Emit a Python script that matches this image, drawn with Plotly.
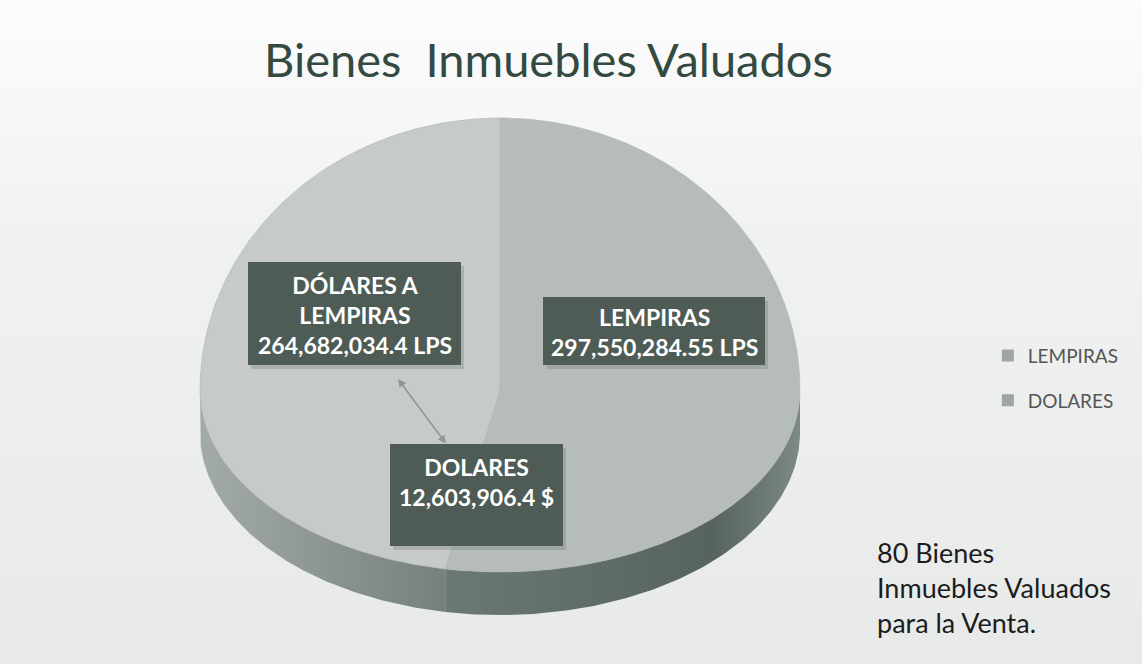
import numpy as np
import plotly.graph_objects as go

# ---------------- data ----------------
categories = ["LEMPIRAS", "DOLARES"]
values_lps = [297550284.55, 264682034.4]      # DOLARES already converted to lempiras
dolares_usd = 12603906.4
title_text = "Bienes  Inmuebles Valuados"
note_text = "80 Bienes<br>Inmuebles Valuados<br>para la Venta."

# ---------------- geometry / style ----------------
W, H = 1142, 664
CX, CY = 500, 390
RX, RY_TOP, RY_BOT = 300, 272, 182
DEPTH = 43
FONT = "Lato"

top_colors = ["#b6bcba", "#c6cbca"]
side_grad = [
    [[0, "#6c7973"], [0.75, "#56645d"], [1, "#7d8984"]],   # LEMPIRAS side (left->right)
    [[0, "#a3aba7"], [1, "#76817b"]],                     # DOLARES side (left->right)
]


def ell(theta_deg):
    t = np.radians(theta_deg)
    c = np.cos(t)
    ry = np.where(c > 0, RY_TOP, RY_BOT)
    return CX + RX * np.sin(t), CY - ry * c


fig = go.Figure()

# background with soft vertical gradient (white at top, light gray lower)
fig.add_trace(go.Scatter(
    x=[0, W, W, 0, 0], y=[0, 0, H, H, 0], mode="lines", line=dict(width=0),
    fill="toself", fillgradient=dict(type="vertical",
                                     colorscale=[[0, "#e7eae9"], [0.65, "#f0f2f1"], [1, "#fcfcfc"]]),
    hoverinfo="skip", showlegend=False))

total = sum(values_lps)
angles = np.concatenate([[0], np.cumsum(values_lps) / total * 360.0])

# sides (front half only: 90..270 degrees)
for i in range(len(values_lps)):
    a0, a1 = max(angles[i], 90), min(angles[i + 1], 270)
    if a1 <= a0:
        continue
    th = np.linspace(a0, a1, 120)
    x, y = ell(th)
    xs = np.concatenate([x, x[::-1], [x[0]]])
    ys = np.concatenate([y, (y + DEPTH)[::-1], [y[0]]])
    fig.add_trace(go.Scatter(
        x=xs, y=ys, mode="lines", line=dict(width=0), fill="toself",
        fillgradient=dict(type="horizontal", colorscale=side_grad[i]),
        hoverinfo="skip", showlegend=False))

# top wedges
for i in range(len(values_lps)):
    th = np.linspace(angles[i], angles[i + 1], 200)
    x, y = ell(th)
    xs = np.concatenate([[CX], x, [CX]])
    ys = np.concatenate([[CY], y, [CY]])
    fig.add_trace(go.Scatter(
        x=xs, y=ys, mode="lines", line=dict(width=0.6, color="#aeb4b2"), fill="toself",
        fillcolor=top_colors[i], hoverinfo="skip", showlegend=False))

# legend entries
for i, name in enumerate(categories):
    fig.add_trace(go.Scatter(
        x=[None], y=[None], mode="markers", name=name, legendgroup=name,
        marker=dict(symbol="square", size=11, color="#a0a4a2")))

# label boxes
boxes = [
    dict(x0=248, x1=461, y0=262, y1=365, tx=355, ty=315,
         text=f"DÓLARES A<br>LEMPIRAS<br>{values_lps[1]:,.1f} LPS"),
    dict(x0=543, x1=765, y0=297, y1=365, tx=654, ty=332,
         text=f"{categories[0]}<br>{values_lps[0]:,.2f} LPS"),
    dict(x0=390, x1=563, y0=444, y1=546, tx=476, ty=482,
         text=f"{categories[1]}<br>{dolares_usd:,.1f} $"),
]
shapes = []
annotations = []
for b in boxes:
    shapes.append(dict(type="rect", xref="x", yref="y", x0=b["x0"] + 3, x1=b["x1"] + 3,
                       y0=b["y0"] + 4, y1=b["y1"] + 4, fillcolor="rgba(90,100,95,0.25)",
                       line=dict(width=0), layer="above"))
    shapes.append(dict(type="rect", xref="x", yref="y", x0=b["x0"], x1=b["x1"],
                       y0=b["y0"], y1=b["y1"], fillcolor="#4e5c55",
                       line=dict(width=0), layer="above"))
    annotations.append(dict(x=b["tx"], y=b["ty"], xref="x", yref="y", text=f"<b>{b['text']}</b>",
                            showarrow=False, align="center",
                            font=dict(family=FONT, size=23, color="#ffffff")))

# connector arrow
annotations.append(dict(x=398, y=379, ax=447, ay=445, xref="x", yref="y", axref="x", ayref="y",
                        text="", showarrow=True, arrowhead=2, startarrowhead=2,
                        arrowside="end+start", arrowwidth=1.6, arrowcolor="#8d9893"))

# title
annotations.append(dict(x=548, y=59, xref="x", yref="y", text=title_text, showarrow=False,
                        font=dict(family=FONT, size=47, color="#34493f", weight="normal")))
# note
annotations.append(dict(x=875, y=587, xref="x", yref="y", text=note_text, showarrow=False,
                        xanchor="left", yanchor="middle", align="left",
                        font=dict(family=FONT, size=27, color="#1c1c1c")))

fig.update_layout(
    width=W, height=H, margin=dict(l=0, r=0, t=0, b=0),
    paper_bgcolor="#eef0ef", plot_bgcolor="rgba(0,0,0,0)",
    xaxis=dict(range=[0, W], visible=False, fixedrange=True),
    yaxis=dict(range=[H, 0], visible=False, fixedrange=True),
    shapes=shapes, annotations=annotations,
    showlegend=True,
    legend=dict(x=0.865, y=0.493, xanchor="left", yanchor="top",
                font=dict(family=FONT, size=19, color="#555555"),
                bgcolor="rgba(0,0,0,0)", tracegroupgap=17, itemsizing="constant"),
)

fig.write_html("out.html", config={"displayModeBar": False},
               post_script="document.body.style.margin='0';")
